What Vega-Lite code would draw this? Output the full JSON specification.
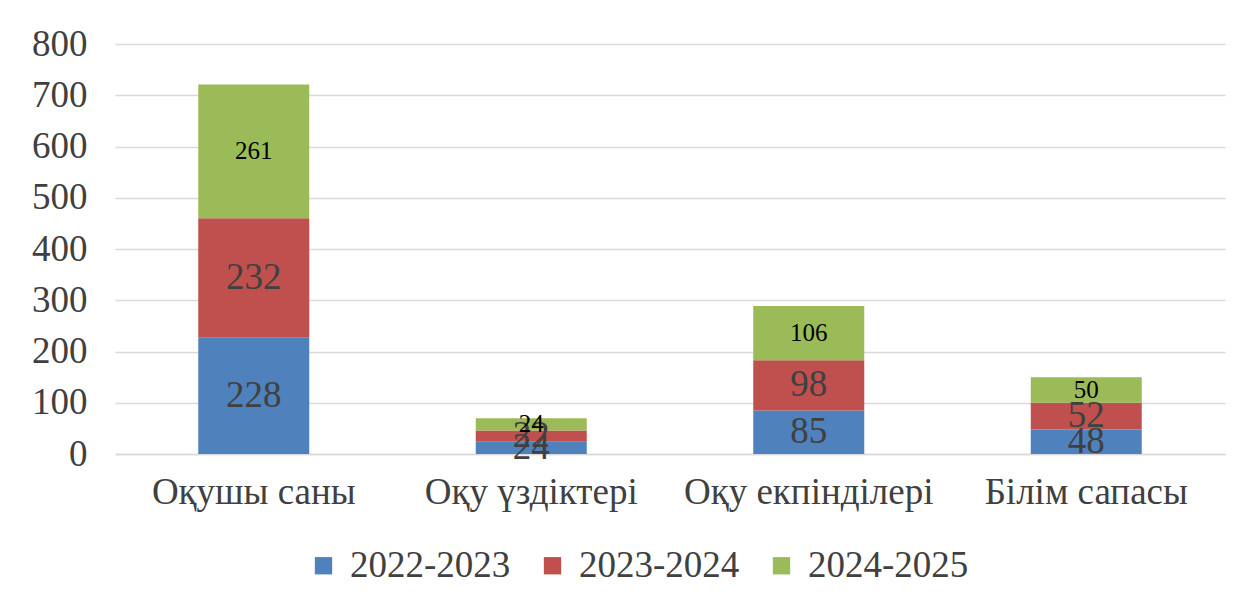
{
  "$schema": "https://vega.github.io/schema/vega-lite/v6.json",
  "width": 1110,
  "height": 410,
  "autosize": {"type": "none"},
  "padding": {"left": 115, "top": 44, "right": 18, "bottom": 148},
  "background": "white",
  "config": {
    "view": {"stroke": null},
    "font": "Liberation Serif"
  },
  "data": {
    "values": [
      {"category": "Оқушы саны", "series": "2022-2023", "value": 228},
      {"category": "Оқушы саны", "series": "2023-2024", "value": 232},
      {"category": "Оқушы саны", "series": "2024-2025", "value": 261},
      {"category": "Оқу үздіктері", "series": "2022-2023", "value": 24},
      {"category": "Оқу үздіктері", "series": "2023-2024", "value": 22},
      {"category": "Оқу үздіктері", "series": "2024-2025", "value": 24},
      {"category": "Оқу екпінділері", "series": "2022-2023", "value": 85},
      {"category": "Оқу екпінділері", "series": "2023-2024", "value": 98},
      {"category": "Оқу екпінділері", "series": "2024-2025", "value": 106},
      {"category": "Білім сапасы", "series": "2022-2023", "value": 48},
      {"category": "Білім сапасы", "series": "2023-2024", "value": 52},
      {"category": "Білім сапасы", "series": "2024-2025", "value": 50}
    ]
  },
  "transform": [
    {"calculate": "indexof(['2022-2023','2023-2024','2024-2025'], datum.series)", "as": "ord"},
    {"stack": "value", "groupby": ["category"], "sort": [{"field": "ord", "order": "ascending"}], "as": ["v0", "v1"]},
    {"calculate": "(datum.v0 + datum.v1) / 2", "as": "mid"}
  ],
  "encoding": {
    "x": {
      "field": "category",
      "type": "nominal",
      "sort": ["Оқушы саны", "Оқу үздіктері", "Оқу екпінділері", "Білім сапасы"],
      "scale": {"paddingInner": 0.6, "paddingOuter": 0.3},
      "axis": {
        "title": null,
        "labelAngle": 0,
        "labelFont": "Liberation Serif",
        "labelFontSize": 37,
        "labelColor": "#404040",
        "labelPadding": 20,
        "ticks": false,
        "domainColor": "#d9d9d9",
        "domainWidth": 1.5,
        "labelLimit": 400
      }
    }
  },
  "layer": [
    {
      "mark": {"type": "bar"},
      "encoding": {
        "y": {
          "field": "v0",
          "type": "quantitative",
          "scale": {"domain": [0, 800]},
          "axis": {
            "title": null,
            "values": [0, 100, 200, 300, 400, 500, 600, 700, 800],
            "labelFont": "Liberation Serif",
            "labelFontSize": 37,
            "labelColor": "#404040",
            "labelPadding": 28,
            "ticks": false,
            "domain": false,
            "gridColor": "#d9d9d9",
            "gridWidth": 1.5
          }
        },
        "y2": {"field": "v1"},
        "color": {
          "field": "series",
          "type": "nominal",
          "scale": {"domain": ["2022-2023", "2023-2024", "2024-2025"], "range": ["#4f81bd", "#c0504d", "#9bbb59"]},
          "legend": {
            "title": null,
            "orient": "none",
            "direction": "horizontal",
            "legendX": 190,
            "legendY": 503,
            "symbolType": "square",
            "symbolSize": 300,
            "symbolStrokeWidth": 0,
            "labelFont": "Liberation Serif",
            "labelFontSize": 37,
            "labelColor": "#404040",
            "labelOffset": 8,
            "columnPadding": 23,
            "labelLimit": 300
          }
        }
      }
    },
    {
      "mark": {"type": "text", "baseline": "middle", "align": "center", "font": "Liberation Serif"},
      "encoding": {
        "y": {"field": "mid", "type": "quantitative"},
        "text": {"field": "value", "type": "quantitative"},
        "size": {
          "condition": {"test": "datum.series === '2024-2025'", "value": 25},
          "value": 37
        },
        "color": {
          "condition": {"test": "datum.series === '2024-2025'", "value": "#000000"},
          "value": "#404040"
        }
      }
    }
  ]
}
